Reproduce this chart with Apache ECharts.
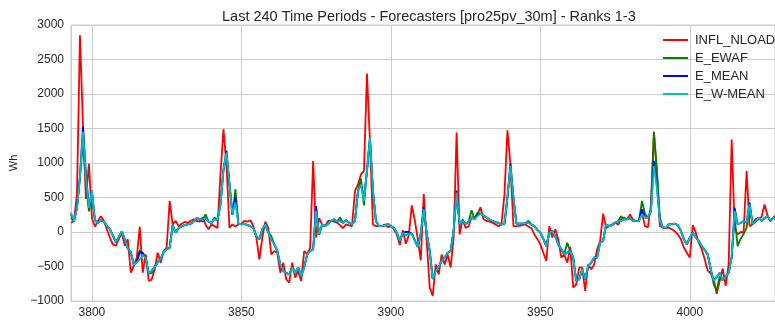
<!DOCTYPE html>
<html>
<head>
<meta charset="utf-8">
<script src="https://cdn.jsdelivr.net/npm/echarts@6/dist/echarts.min.js"></script>
<style>
html,body{margin:0;padding:0;background:#fff;}
#chart{width:775px;height:324px;}
</style>
</head>
<body>
<div id="chart"></div>
<script>
const titleText = 'Last 240 Time Periods - Forecasters [pro25pv_30m] - Ranks 1-3';
const seriesNames = ['INFL_NLOAD', 'E_EWAF', 'E_MEAN', 'E_W-MEAN'];
const startPeriod = 3793;
const yTicks = [-1000, -500, 0, 500, 1000, 1500, 2000, 2500, 3000];

const inflNload = [
 135,160,550,2850,1550,480,990,200,80,160,
 230,160,40,-80,-180,-200,-105,-10,-200,-105,
 -590,-490,-370,77,-590,-325,-710,-690,-540,-300,
 -445,-275,-225,450,110,160,85,120,145,135,
 160,185,160,150,210,110,40,110,85,60,
 835,1490,980,60,110,80,110,120,160,150,
 170,85,-80,-395,-80,150,60,-325,-275,-300,
 -590,-445,-685,-735,-445,-660,-565,-710,-275,-325,
 -225,1030,-80,200,110,85,160,160,150,135,
 100,55,110,95,85,595,690,835,885,2295,
 1320,110,85,85,85,110,70,85,40,-35,
 -190,25,-170,-50,385,170,-100,-410,550,-150,
 -805,-925,-470,-615,-325,-470,-325,-515,-80,1440,
 -35,185,60,85,210,210,260,360,185,160,
 150,135,110,85,110,545,1475,980,85,85,
 90,100,110,80,55,-35,-100,-180,-300,-420,
 85,-80,40,-105,-370,-325,-445,-215,-805,-760,
 -515,-515,-855,-470,-540,-470,-250,-130,265,60,
 85,110,135,110,180,210,185,255,180,160,
 160,280,85,70,400,1455,835,85,70,60,
 60,40,10,-35,-100,-225,-300,-370,100,-10,
 -155,-250,-400,-560,-600,-685,-895,-710,-530,-780,
 -470,1340,60,-35,0,-10,885,85,110,190,
 185,217,400,240,160,210,250,200,220,180
];

const eEwaf = [
 200,160,350,800,1300,700,300,550,170,130,
 170,150,90,40,-50,-150,-70,10,-110,-240,
 -290,-470,-440,-260,-330,-380,-600,-600,-500,-440,
 -390,-290,-250,-230,100,-10,60,80,100,110,
 120,150,200,190,170,255,150,130,210,170,
 400,900,1100,700,250,620,120,110,120,100,
 85,55,-60,-105,40,110,-10,-60,-180,-275,
 -470,-565,-590,-615,-515,-590,-515,-640,-515,-325,
 -275,-250,280,-35,110,85,120,160,185,150,
 210,135,170,135,110,160,595,775,385,885,
 1340,595,160,85,85,95,120,85,60,-10,
 -130,-10,-50,-25,-25,-120,-215,-25,300,-25,
 -275,-680,-565,-505,-420,-370,-300,-275,25,540,
 110,160,120,150,315,185,280,265,240,210,
 180,160,140,135,110,120,500,940,500,120,
 120,120,125,160,110,85,30,-10,-100,-205,
 -10,15,-60,-180,-250,-325,-155,-275,-370,-710,
 -685,-540,-685,-495,-445,-370,-370,-155,-130,110,
 85,100,135,160,230,185,185,200,160,160,
 160,450,260,210,300,1440,900,200,60,60,
 110,115,120,100,15,-100,-180,-80,-10,-80,
 -130,-205,-260,-325,-540,-760,-855,-640,-700,-650,
 -590,-370,200,-205,-100,-30,60,380,110,150,
 210,160,200,230,160,210,180,200,190,200
];

const eMean = [
 260,160,350,800,1530,850,350,600,170,130,
 170,150,90,40,-50,-150,-70,10,-110,-240,
 -290,-470,-440,-290,-300,-380,-600,-560,-510,-440,
 -390,-290,-250,-230,100,-10,60,80,100,110,
 120,150,200,190,150,200,150,130,190,170,
 400,900,1180,700,250,500,120,110,120,100,
 85,55,-60,-105,40,110,-10,-105,-180,-275,
 -470,-565,-590,-615,-515,-590,-515,-640,-515,-325,
 -275,-250,375,-35,110,85,120,160,185,150,
 160,135,170,135,110,160,595,690,500,885,
 1370,595,160,85,85,95,120,85,60,-10,
 -130,-10,0,0,-25,-120,-215,-25,360,-25,
 -275,-680,-565,-505,-420,-370,-300,-275,25,600,
 110,160,120,150,210,185,250,265,240,210,
 180,160,140,135,110,120,500,990,500,120,
 120,120,125,135,110,85,30,-10,-100,-205,
 -10,15,-60,-180,-250,-325,-300,-265,-370,-710,
 -685,-540,-685,-495,-445,-370,-370,-155,-130,110,
 85,100,135,160,160,185,185,200,160,160,
 160,330,210,210,300,1030,660,160,60,60,
 110,115,120,100,15,-100,-180,-80,-10,-80,
 -130,-205,-260,-325,-540,-710,-650,-590,-700,-650,
 -590,-370,350,110,130,160,135,425,110,150,
 210,160,200,230,160,210,180,200,190,200
];

const eWMean = [
 280,160,350,800,1450,800,350,600,170,130,
 170,150,90,40,-50,-150,-70,10,-110,-240,
 -290,-470,-440,-400,-330,-380,-600,-560,-510,-440,
 -390,-290,-250,-230,100,-10,60,80,100,110,
 120,150,200,190,170,200,150,130,190,170,
 400,900,1150,700,250,430,120,110,120,100,
 85,55,-60,-105,40,110,-10,-105,-180,-275,
 -470,-565,-590,-615,-515,-590,-515,-640,-515,-325,
 -275,-250,305,-35,110,85,120,160,185,150,
 160,135,170,135,110,160,595,690,450,885,
 1365,595,160,85,85,95,120,85,60,-10,
 -130,-10,-50,-25,-25,-120,-215,-25,330,-25,
 -275,-680,-565,-505,-420,-370,-300,-275,25,570,
 110,160,120,150,210,185,230,265,240,210,
 180,160,140,135,110,120,500,960,500,120,
 120,120,125,135,110,85,30,-10,-100,-205,
 -10,15,-60,-180,-250,-325,-300,-275,-370,-710,
 -685,-540,-685,-495,-445,-370,-370,-155,-130,110,
 85,100,135,160,160,185,185,200,160,160,
 160,255,210,210,300,955,640,160,60,60,
 110,115,120,100,15,-100,-180,-80,-10,-80,
 -130,-205,-260,-325,-540,-710,-650,-590,-700,-650,
 -590,-370,305,110,130,160,135,400,110,150,
 210,160,200,230,160,210,180,200,190,200
];

const colors = ['#ff0000', '#008000', '#0000ff', '#00bfbf'];
const allValues = [inflNload, eEwaf, eMean, eWMean];

function pairs(vals) {
  return vals.map((v, i) => [startPeriod + i, v]);
}

const chart = echarts.init(document.getElementById('chart'), null, {renderer: 'canvas'});
const textColor = '#262626';
const gridColor = '#cccccc';
const font = 'Liberation Sans, Arial, sans-serif';

chart.setOption({
  animation: false,
  backgroundColor: '#ffffff',
  title: {
    text: titleText,
    left: 217,
    top: 4,
    textStyle: {fontFamily: font, fontSize: 14.5, fontWeight: 'normal', color: textColor}
  },
  legend: {
    orient: 'vertical',
    left: 658,
    top: 26,
    itemWidth: 25,
    itemHeight: 2,
    itemGap: 0,
    icon: 'rect',
    data: seriesNames,
    textStyle: {fontFamily: font, fontSize: 13, color: textColor, lineHeight: 18, padding: [0, 0, 0, 2]}
  },
  grid: {
    left: 71, right: 0, top: 25, bottom: 23,
    show: true, borderColor: gridColor, borderWidth: 1, containLabel: false
  },
  xAxis: {
    type: 'value',
    min: startPeriod,
    max: 4028.5,
    splitNumber: 5,
    axisLine: {show: false},
    axisTick: {show: false},
    axisLabel: {
      showMinLabel: false, showMaxLabel: false,
      margin: 6,
      fontFamily: font, fontSize: 12, color: textColor,
      formatter: v => String(v)
    },
    splitLine: {show: true, lineStyle: {color: gridColor, width: 1}}
  },
  yAxis: {
    type: 'value',
    min: yTicks[0],
    max: yTicks[yTicks.length - 1],
    interval: 500,
    name: 'Wh',
    nameLocation: 'middle',
    nameGap: 41,
    nameRotate: 90,
    nameTextStyle: {fontFamily: font, fontSize: 11, color: textColor},
    axisLine: {show: false},
    axisTick: {show: false},
    axisLabel: {
      margin: 7,
      fontFamily: font, fontSize: 12, color: textColor,
      formatter: v => (v < 0 ? '\u2212' + Math.abs(v) : String(v))
    },
    splitLine: {show: true, lineStyle: {color: gridColor, width: 1}}
  },
  series: seriesNames.map((name, i) => ({
    name: name,
    type: 'line',
    data: pairs(allValues[i]),
    showSymbol: false,
    symbol: 'none',
    color: colors[i],
    lineStyle: {color: colors[i], width: 1.8},
    z: 2 + i
  }))
});
</script>
</body>
</html>
